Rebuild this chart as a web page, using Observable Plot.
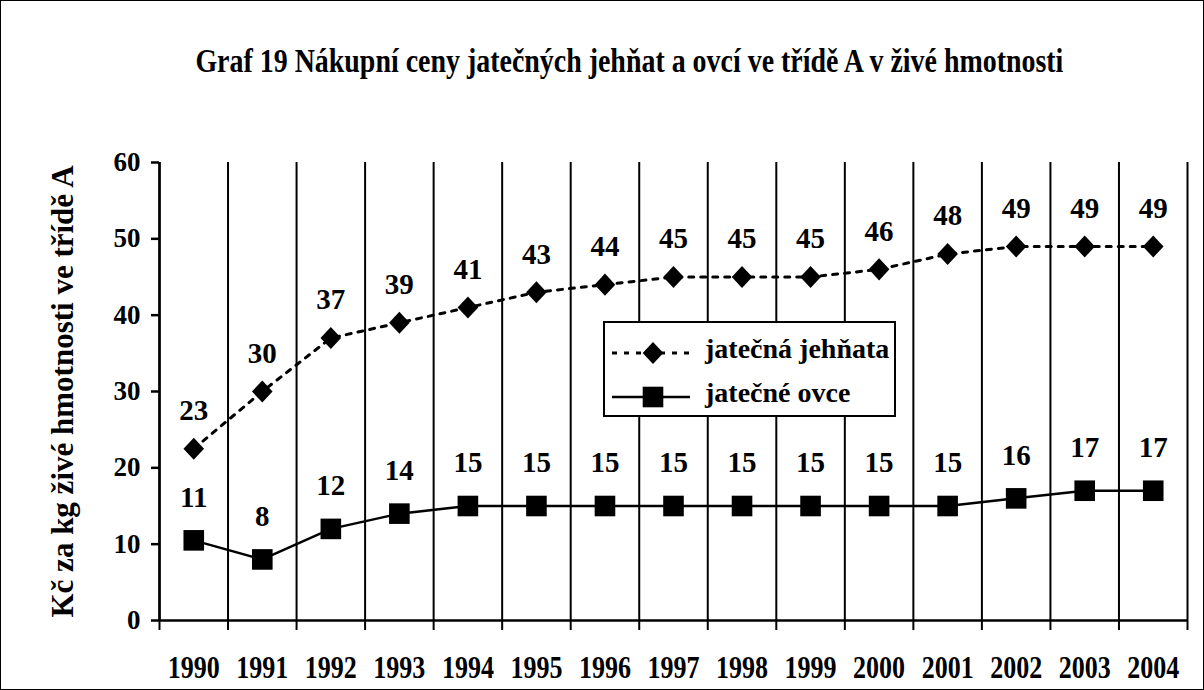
<!DOCTYPE html>
<html><head><meta charset="utf-8">
<script src="https://cdn.jsdelivr.net/npm/d3@7"></script>
<script src="https://cdn.jsdelivr.net/npm/@observablehq/plot@0.6"></script>
<style>
html,body{margin:0;padding:0;background:#fff;}
#wrap{position:relative;width:1204px;height:690px;overflow:hidden;font-weight:bold;color:#000;background:#fff;}
#wrap, #wrap *, #wrap svg text{font-family:"Liberation Serif","Times New Roman",serif !important;font-weight:bold;}
#frame{position:absolute;left:0;top:0;width:1204px;height:690px;box-sizing:border-box;border:1px solid #000;pointer-events:none;}
#title{position:absolute;left:629px;top:44px;font-size:34px;line-height:34px;white-space:nowrap;transform-origin:50% 50%;}
#chart{position:absolute;left:0;top:100px;}
#legend{position:absolute;left:603px;top:321px;width:293px;height:96px;box-sizing:border-box;border:2px solid #000;background:#fff;}
#legend svg{position:absolute;left:0;top:0;}
#legend .lt{position:absolute;left:100px;font-size:28px;line-height:28px;white-space:nowrap;}
</style></head>
<body>
<div id="wrap"><div id="chart"></div><div id="title"></div><div id="legend"></div><div id="frame"></div></div>
<script>
const years = [1990,1991,1992,1993,1994,1995,1996,1997,1998,1999,2000,2001,2002,2003,2004];
const lambs = [22.5,30,37,39,41,43,44,45,45,45,46,48,49,49,49];
const sheep = [10.5,8,12,14,15,15,15,15,15,15,15,15,16,17,17];
const seriesNames = ["jatečná jehňata","jatečné ovce"];
const yTicks = [0,10,20,30,40,50,60];
const titleText = "Graf 19 Nákupní ceny jatečných jehňat a ovcí ve třídě A v živé hmotnosti";
const yLabel = "Kč za kg živé hmotnosti ve třídě A";

const FONT = '"Liberation Serif","Times New Roman",serif';
const data = years.map((year,i)=>({year, lambs: lambs[i], sheep: sheep[i]}));
const bounds = years.map(y=>y-0.5).concat([years[years.length-1]+0.5]);

const diamondSym = {draw(ctx,size){const r=Math.sqrt(size/Math.PI);const h=r*1.07;ctx.moveTo(0,-h);ctx.lineTo(r,0);ctx.lineTo(0,h);ctx.lineTo(-r,0);ctx.closePath();}};
const squareSym = {draw(ctx,size){const r=Math.sqrt(size/Math.PI);ctx.rect(-r,-r,2*r,2*r);}};

const chart = Plot.plot({
  width: 1204, height: 588,
  marginLeft: 159, marginRight: 17, marginTop: 62, marginBottom: 68,
  x: {type: "linear", domain: [bounds[0], bounds[bounds.length-1]]},
  y: {domain: [yTicks[0], yTicks[yTicks.length-1]]},
  style: `font-family: ${FONT}; font-weight: bold; background: transparent; color: #000; overflow: visible;`,
  marks: [
    Plot.ruleX(bounds, {stroke: "#000", strokeWidth: 2}),
    Plot.ruleX([bounds[0]], {stroke: "#000", strokeWidth: 2.5}),
    Plot.ruleY([0], {stroke: "#000", strokeWidth: 2.5}),
    Plot.axisY({ticks: yTicks, tickSize: 8, tickPadding: 11, fontSize: 27, tickFormat: d=>String(d), label: null, strokeWidth: 2.5}),
    Plot.axisX({ticks: bounds, tickSize: 10, tickFormat: ()=>"", label: null, strokeWidth: 2}),
    Plot.axisX({ticks: years, tickSize: 0, tickPadding: 35, fontSize: 31, tickFormat: d=>String(d), label: null}),
    Plot.text([yLabel], {frameAnchor: "left", text: d=>d, rotate: -90, dx: -96, textAnchor: "middle", fontSize: 31, fontWeight: "bold"}),
    Plot.line(data, {x: "year", y: "lambs", stroke: "#000", strokeWidth: 3, strokeDasharray: "5,7"}),
    Plot.line(data, {x: "year", y: "sheep", stroke: "#000", strokeWidth: 2.5}),
    Plot.dot(data, {x: "year", y: "lambs", symbol: diamondSym, r: 10.3, fill: "#000", stroke: "none"}),
    Plot.dot(data, {x: "year", y: "sheep", symbol: squareSym, r: 10.3, fill: "#000", stroke: "none"}),
    Plot.text(data, {x: "year", y: "lambs", text: d=>String(Math.round(d.lambs)), dy: -38, fontSize: 29, fontWeight: "bold"}),
    Plot.text(data, {x: "year", y: "sheep", text: d=>String(Math.round(d.sheep)), dy: -43, fontSize: 29, fontWeight: "bold"})
  ]
});
document.getElementById("chart").appendChild(chart);

// compress year labels horizontally like the original
chart.querySelectorAll('g[aria-label="x-axis tick label"] text').forEach(t=>{
  if (t.textContent.trim() !== "") {
    t.setAttribute("textLength", 52);
    t.setAttribute("lengthAdjust", "spacingAndGlyphs");
  }
});

// title
const titleEl = document.getElementById("title");
titleEl.textContent = titleText;
const natW = titleEl.getBoundingClientRect().width;
const k = 868 / natW;
titleEl.style.marginLeft = (-natW/2) + "px";
titleEl.style.transform = `scaleX(${k})`;

// legend
const leg = document.getElementById("legend");
const ns = "http://www.w3.org/2000/svg";
const lsvg = document.createElementNS(ns, "svg");
lsvg.setAttribute("width", 289); lsvg.setAttribute("height", 92);
const rows = [{cy: 30, dash: "5,7", sym: diamondSym, sw: 3}, {cy: 74, dash: null, sym: squareSym, sw: 2.5}];
rows.forEach((r, i)=>{
  const ln = document.createElementNS(ns, "line");
  ln.setAttribute("x1", 7); ln.setAttribute("x2", 85); ln.setAttribute("y1", r.cy); ln.setAttribute("y2", r.cy);
  ln.setAttribute("stroke", "#000"); ln.setAttribute("stroke-width", r.sw);
  if (r.dash) ln.setAttribute("stroke-dasharray", r.dash);
  lsvg.appendChild(ln);
  const p = document.createElementNS(ns, "path");
  p.setAttribute("d", d3.symbol(r.sym, 10.3*10.3*Math.PI)());
  p.setAttribute("transform", `translate(48,${r.cy})`);
  p.setAttribute("fill", "#000");
  lsvg.appendChild(p);
  const t = document.createElement("div");
  t.className = "lt";
  t.textContent = seriesNames[i];
  t.style.top = (r.cy + 5 - 23.4) + "px";
  leg.appendChild(t);
});
leg.insertBefore(lsvg, leg.firstChild);
</script>
</body></html>
